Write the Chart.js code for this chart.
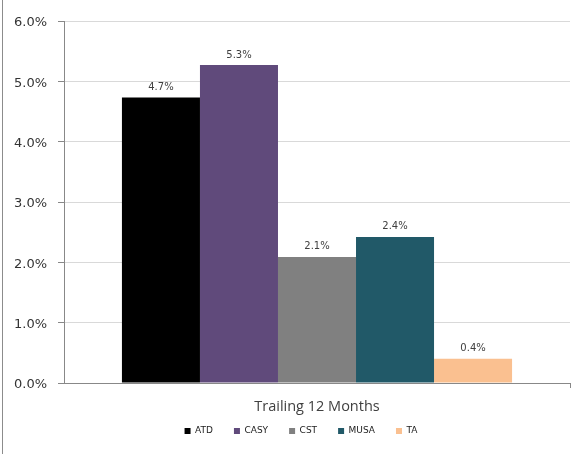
<!DOCTYPE html>
<html>
<head>
<meta charset="utf-8">
<script src="https://cdn.jsdelivr.net/npm/chart.js@4.4.0/dist/chart.umd.min.js"></script>
<style>
    html, body { margin: 0; padding: 0; background: #fff; }
    #wrap { width: 584px; height: 454px; }
</style>
</head>
<body>
<div id="wrap"><canvas id="chart" width="584" height="454"></canvas></div>
<script>
// Values (percent)
const categories = ['Trailing 12 Months'];
const companies = ['ATD', 'CASY', 'CST', 'MUSA', 'TA'];
const trailing12 = [4.73, 5.27, 2.09, 2.42, 0.40];
const barColors = ['#000000', '#604a7b', '#808080', '#215968', '#fac090'];
const yTicks = [0, 1, 2, 3, 4, 5, 6];

const AXIS_GREY = '#888888';

// thin rule down the left edge of the picture
const leftRule = {
    id: 'leftRule',
    afterDraw(chart) {
        const ctx = chart.ctx;
        ctx.save();
        ctx.strokeStyle = '#8c8c8c';
        ctx.lineWidth = 1;
        ctx.beginPath();
        ctx.moveTo(2.5, 0);
        ctx.lineTo(2.5, chart.height);
        ctx.stroke();
        ctx.restore();
    }
};

// nudge the legend so it sits where the original one does
const legendNudge = {
    id: 'legendNudge',
    afterLayout(chart) {
        const lg = chart.legend;
        if (!lg) return;
        lg.left += 16; lg.right += 16;
        lg.top -= 11.5; lg.bottom -= 11.5;
    }
};

// percent labels above each bar
const barValueLabels = {
    id: 'barValueLabels',
    afterDatasetsDraw(chart) {
        const ctx = chart.ctx;
        ctx.save();
        ctx.font = '10px "DejaVu Sans"';
        ctx.fillStyle = '#404040';
        ctx.textAlign = 'center';
        ctx.textBaseline = 'alphabetic';
        chart.data.datasets.forEach((ds, i) => {
            const meta = chart.getDatasetMeta(i);
            meta.data.forEach((bar, j) => {
                ctx.fillText(ds.data[j].toFixed(1) + '%', bar.x, bar.y - 7.5);
            });
        });
        ctx.restore();
    }
};

new Chart(document.getElementById('chart'), {
    type: 'bar',
    data: {
        labels: categories,
        datasets: companies.map((name, i) => ({
            label: name,
            data: [trailing12[i]],
            backgroundColor: barColors[i],
            borderWidth: 0,
            categoryPercentage: 0.771,
            barPercentage: 1.0
        }))
    },
    options: {
        responsive: false,
        animation: false,
        devicePixelRatio: 1,
        layout: {
            padding: { top: 21, right: 14, bottom: 0, left: 0 }
        },
        scales: {
            x: {
                grid: {
                    display: true,
                    drawOnChartArea: false,
                    drawTicks: true,
                    tickLength: 5,
                    offset: true,
                    color: ctx => ctx.index === 0 ? 'rgba(0,0,0,0)' : AXIS_GREY
                },
                border: { display: true, color: AXIS_GREY },
                ticks: {
                    color: '#404040',
                    font: { family: 'Open Sans', size: 14.5 },
                    padding: 10,
                    maxRotation: 0
                },
                afterFit: s => { s.height = 34; }
            },
            y: {
                min: yTicks[0],
                max: yTicks[yTicks.length - 1],
                afterBuildTicks: s => { s.ticks = yTicks.map(v => ({ value: v })); },
                grid: {
                    color: ctx => (ctx.tick && ctx.tick.value === 0) ? AXIS_GREY : '#d9d9d9',
                    tickColor: AXIS_GREY,
                    tickLength: 6
                },
                border: { display: true, color: AXIS_GREY },
                ticks: {
                    callback: v => v.toFixed(1) + '%',
                    color: '#333333',
                    font: { family: 'DejaVu Sans', size: 13 },
                    padding: 11,
                    labelOffset: 2
                },
                afterFit: s => { s.width = 64; }
            }
        },
        plugins: {
            legend: {
                position: 'bottom',
                maxHeight: 37,
                labels: {
                    boxWidth: 6,
                    boxHeight: 6,
                    padding: 21,
                    color: '#222222',
                    font: { family: 'DejaVu Sans', size: 9 }
                }
            },
            tooltip: { enabled: false }
        }
    },
    plugins: [leftRule, legendNudge, barValueLabels]
});
</script>
</body>
</html>
